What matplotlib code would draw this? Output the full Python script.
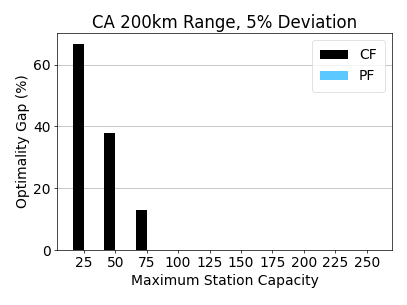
import numpy as np
import matplotlib
matplotlib.use("Agg")
import matplotlib.pyplot as plt

capacities = [25, 50, 75, 100, 125, 150, 175, 200, 225, 250]
cf_gap = [66.8, 37.8, 12.9, 0, 0, 0, 0, 0, 0, 0]
pf_gap = [0, 0, 0, 0, 0, 0, 0, 0, 0, 0]

# the original looks like a 640x480 figure shrunk to ~64%, so scale pads/lines
s = 0.636
plt.rcParams["axes.linewidth"] = 0.8 * s
plt.rcParams["xtick.major.size"] = 3.5 * s
plt.rcParams["ytick.major.size"] = 3.5 * s
plt.rcParams["xtick.major.width"] = 0.8 * s
plt.rcParams["ytick.major.width"] = 0.8 * s
plt.rcParams["xtick.major.pad"] = 3.5 * s
plt.rcParams["ytick.major.pad"] = 3.5 * s
plt.rcParams["axes.labelpad"] = 4.0 * s
plt.rcParams["axes.titlepad"] = 6.0 * s
plt.rcParams["legend.framealpha"] = 0.8

fig = plt.figure(figsize=(4.07, 3.05), dpi=100)
ax = fig.add_axes([57 / 407, 55 / 305, 335 / 407, 217 / 305])

x = np.arange(len(capacities))
width = 0.35
ax.bar(x - width / 2, cf_gap, width, color="black", label="CF", zorder=3)
ax.bar(x + width / 2, pf_gap, width, color="#5bc8ff", label="PF", zorder=3)

ax.set_xticks(x)
ax.set_xticklabels([str(c) for c in capacities], fontsize=10)
ax.tick_params(axis="y", labelsize=10)
ax.set_xlim(-0.85, 9.8)
ax.set_ylim(0, 70.2)
ax.set_yticks([0, 20, 40, 60])
ax.yaxis.grid(True, color="#b0b0b0", linewidth=0.8 * s, zorder=0)
ax.set_xlabel("Maximum Station Capacity", fontsize=10)
ax.set_ylabel("Optimality Gap (%)", fontsize=10)
ax.set_title("CA 200km Range, 5% Deviation", fontsize=12)
leg = ax.legend(loc="upper right", fontsize=10, borderpad=0.6)
leg.get_frame().set_linewidth(0.8 * s)

fig.savefig("out.png", dpi=100)
